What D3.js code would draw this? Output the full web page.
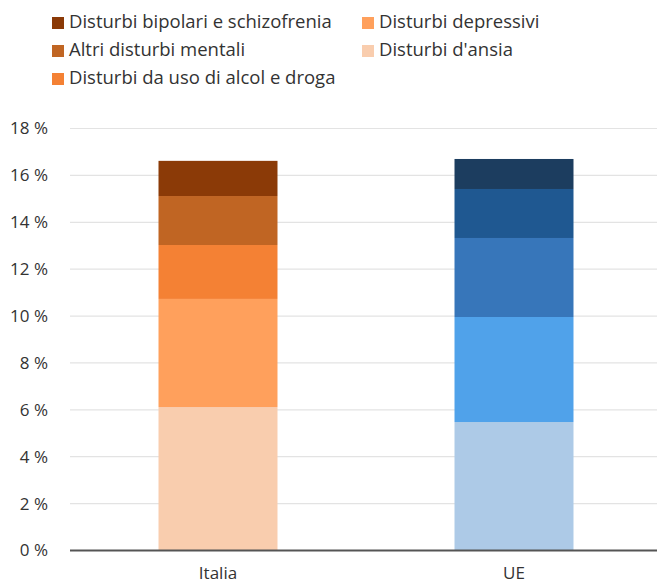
<!DOCTYPE html>
<html>
<head>
<meta charset="utf-8">
<script src="https://cdn.jsdelivr.net/npm/d3@7"></script>
<style>
  body { margin: 0; background: #fff; }
  text { font-family: "Open Sans", "Noto Sans", sans-serif; fill: #333; }
</style>
</head>
<body>
<svg id="chart" width="657" height="585"></svg>
<script>
var categories = ["Italia", "UE"];
var seriesNames = ["Disturbi d'ansia", "Disturbi depressivi", "Disturbi da uso di alcol e droga", "Altri disturbi mentali", "Disturbi bipolari e schizofrenia"];
// values per series, [Italia, UE]
var ansia = [6.12, 5.48];
var depressivi = [4.61, 4.48];
var alcol = [2.30, 3.37];
var altri = [2.09, 2.09];
var bipolari = [1.50, 1.28];
var yTicks = [0, 2, 4, 6, 8, 10, 12, 14, 16, 18];

var coloriItalia = ["#f9cdae", "#ffa05c", "#f48134", "#c06523", "#8b3a07"];
var coloriUE = ["#adcae7", "#50a2ea", "#3776ba", "#1f5891", "#1c3d5f"];

var rows = categories.map(function (c, i) {
    return {cat: c, s0: ansia[i], s1: depressivi[i], s2: alcol[i], s3: altri[i], s4: bipolari[i]};
});
var keys = ["s0", "s1", "s2", "s3", "s4"];
var stacked = d3.stack().keys(keys)(rows);

var svg = d3.select("#chart");
var plotLeft = 70, plotRight = 662, plotTop = 128.5, plotBottom = 550.5;

var x = d3.scaleBand().domain(categories).range([plotLeft, plotRight]).padding(0);
var y = d3.scaleLinear().domain([0, 18]).range([plotBottom, plotTop]);
var barW = x.bandwidth() * 0.402;

// gridlines
svg.append("g").selectAll("line")
    .data(yTicks.filter(function (d) { return d > 0; }))
    .enter().append("line")
    .attr("x1", plotLeft).attr("x2", 657)
    .attr("y1", function (d) { return y(d); })
    .attr("y2", function (d) { return y(d); })
    .attr("stroke", "#e3e3e3").attr("stroke-width", 1.2);

// y labels
svg.append("g").selectAll("text")
    .data(yTicks)
    .enter().append("text")
    .attr("x", 48)
    .attr("y", function (d) { return y(d); })
    .attr("dy", "0.35em")
    .attr("text-anchor", "end")
    .style("font-size", "17px")
    .text(function (d) { return d + " %"; });

// bars
stacked.forEach(function (layer, k) {
    svg.append("g").selectAll("rect")
        .data(layer)
        .enter().append("rect")
        .attr("x", function (d) { return x(d.data.cat) + x.bandwidth() / 2 - barW / 2; })
        .attr("y", function (d) { return y(d[1]); })
        .attr("width", barW)
        .attr("height", function (d) { return y(d[0]) - y(d[1]); })
        .attr("fill", function (d, i) { return i == 0 ? coloriItalia[k] : coloriUE[k]; });
});

// base axis line
svg.append("line")
    .attr("x1", plotLeft).attr("x2", 657)
    .attr("y1", y(0)).attr("y2", y(0))
    .attr("stroke", "#555").attr("stroke-width", 2);

// x labels
svg.append("g").selectAll("text")
    .data(categories)
    .enter().append("text")
    .attr("x", function (d) { return x(d) + x.bandwidth() / 2; })
    .attr("y", 573)
    .attr("dy", "0.35em")
    .attr("text-anchor", "middle")
    .style("font-size", "17px")
    .text(function (d) { return d; });

// legend
var legendItems = [
    {name: seriesNames[4], color: coloriItalia[4], col: 0, row: 0},
    {name: seriesNames[1], color: coloriItalia[1], col: 1, row: 0},
    {name: seriesNames[3], color: coloriItalia[3], col: 0, row: 1},
    {name: seriesNames[0], color: coloriItalia[0], col: 1, row: 1},
    {name: seriesNames[2], color: coloriItalia[2], col: 0, row: 2}
];
var lg = svg.append("g").selectAll("g")
    .data(legendItems)
    .enter().append("g")
    .attr("transform", function (d) { return "translate(" + (d.col == 0 ? 52 : 362) + "," + (17 + d.row * 28) + ")"; });
lg.append("rect").attr("width", 12).attr("height", 12).attr("fill", function (d) { return d.color; });
lg.append("text")
    .attr("x", 17).attr("y", 5)
    .attr("dy", "0.35em")
    .style("font-size", "18.5px")
    .text(function (d) { return d.name; });
</script>
</body>
</html>
